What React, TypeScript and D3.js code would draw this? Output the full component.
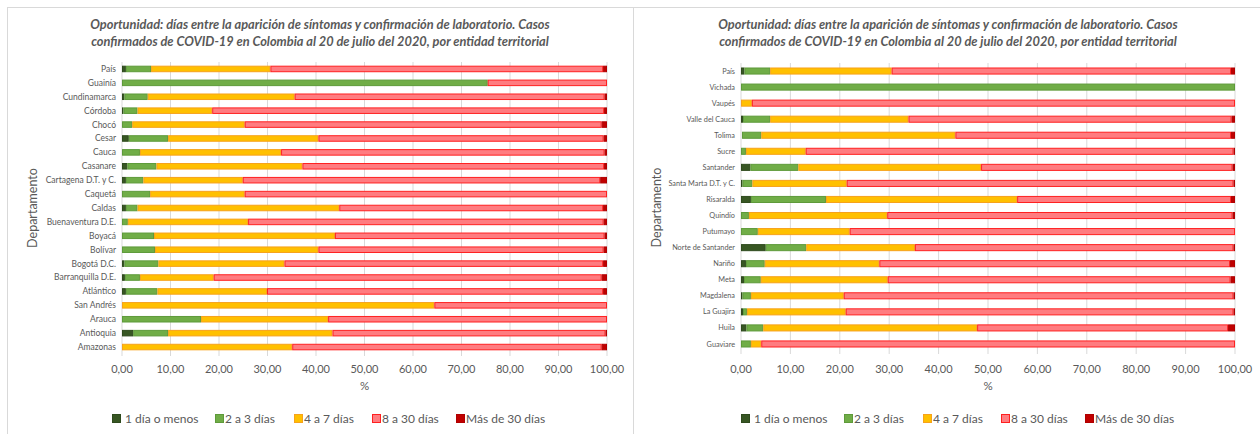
import React from 'react';
import * as d3 from 'd3';

// categorías de oportunidad (días entre síntomas y confirmación)
const series = ['1 día o menos', '2 a 3 días', '4 a 7 días', '8 a 30 días', 'Más de 30 días'];
const fills = ['#375623', '#70AD47', '#FFC000', '#FF7C80', '#C00000'];
const strokes = ['#2E4A1D', '#5E9A3A', '#F7A21B', '#FF2020', '#B00000'];

const titleLines = [
  'Oportunidad: días entre la aparición de síntomas y confirmación de laboratorio. Casos',
  'confirmados de COVID-19 en Colombia al 20 de julio del 2020, por entidad territorial',
];
const xTicks = [0, 10, 20, 30, 40, 50, 60, 70, 80, 90, 100];

// panel izquierdo
const leftDeptos = [
  'País', 'Guainía', 'Cundinamarca', 'Córdoba', 'Chocó', 'Cesar', 'Cauca', 'Casanare',
  'Cartagena D.T. y C.', 'Caquetá', 'Caldas', 'Buenaventura D.E.', 'Boyacá', 'Bolívar',
  'Bogotá D.C.', 'Barranquilla D.E.', 'Atlántico', 'San Andrés', 'Arauca', 'Antioquia', 'Amazonas',
];
const leftUnDia = [0.8, 0, 0.5, 0.3, 0, 1.4, 0, 1.1, 0.8, 0, 0.8, 0, 0, 0, 0.5, 0.6, 0.8, 0, 0, 2.3, 0];
const leftDosTres = [5.2, 75.4, 4.8, 2.9, 2.1, 8.1, 3.7, 6.0, 3.6, 5.8, 2.4, 1.2, 6.6, 6.8, 7.0, 3.1, 6.5, 0, 16.3, 7.2, 0];
const leftCuatroSiete = [24.6, 0, 30.3, 15.4, 23.2, 31.0, 29.1, 30.1, 20.5, 19.5, 41.6, 24.8, 37.3, 33.7, 26.0, 15.2, 22.6, 64.4, 26.2, 33.9, 35.1];
const leftOchoTreinta = [68.6, 24.6, 63.9, 80.8, 73.6, 58.8, 66.7, 62.2, 73.7, 74.7, 54.4, 73.3, 55.6, 58.8, 65.7, 80.0, 69.3, 35.6, 57.5, 56.3, 63.8];
const leftMas30 = [0.8, 0, 0.5, 0.6, 1.1, 0.7, 0.5, 0.6, 1.4, 0, 0.8, 0.7, 0.5, 0.7, 0.8, 1.1, 0.8, 0, 0, 0.3, 1.1];

// panel derecho
const rightDeptos = [
  'País', 'Vichada', 'Vaupés', 'Valle del Cauca', 'Tolima', 'Sucre', 'Santander',
  'Santa Marta D.T. y C.', 'Risaralda', 'Quindío', 'Putumayo', 'Norte de Santander',
  'Nariño', 'Meta', 'Magdalena', 'La Guajira', 'Huila', 'Guaviare',
];
const rightUnDia = [0.7, 0, 0, 0.4, 0.2, 0, 1.9, 0.3, 2.0, 0, 0, 5.0, 1.0, 0.6, 0.3, 0.4, 1.1, 0];
const rightDosTres = [5.2, 100, 0, 5.5, 3.9, 1.0, 9.7, 2.0, 15.2, 1.6, 3.4, 8.2, 3.8, 3.4, 1.7, 0.8, 3.4, 2.0];
const rightCuatroSiete = [24.6, 0, 2.2, 28.0, 39.3, 12.1, 37.0, 19.1, 38.7, 28.0, 18.6, 22.0, 23.2, 25.7, 18.8, 20.0, 43.3, 2.1];
const rightOchoTreinta = [68.7, 0, 97.8, 65.4, 55.8, 86.6, 50.9, 78.3, 43.3, 69.9, 78.0, 64.5, 71.0, 69.4, 78.9, 78.5, 50.8, 95.9];
const rightMas30 = [0.8, 0, 0, 0.7, 0.8, 0.3, 0.5, 0.3, 0.8, 0.5, 0, 0.3, 1.0, 0.9, 0.3, 0.3, 1.4, 0];

const esLocale = d3.formatLocale({ decimal: ',', thousands: '.', grouping: [3], currency: ['', ''] });
const fmt = esLocale.format('.2f');

const FONT = 'Lato, "Open Sans", sans-serif';
const GREY = '#595959';
const legendOffsets = [0, 103, 182, 260, 344];

const Panel = (props) => {
  const { cats, values, x0, x1, y0, y1, pad, labelSize, titleX, legendX, axisTitleX } = props;

  const rows = cats.map((c, i) => {
    const r = { name: c };
    series.forEach((k, j) => (r[k] = values[j][i]));
    return r;
  });
  const stacked = d3.stack().keys(series)(rows);

  const x = d3.scaleLinear().domain([0, 100]).range([x0, x1]);
  const y = d3.scaleBand().domain(cats).range([y0, y1]).paddingInner(pad).paddingOuter(pad / 2);
  const midY = (y0 + y1) / 2;

  return (
    <g>
      {titleLines.map((t, i) => (
        <text key={i} x={titleX} y={29 + i * 17} textAnchor="middle" fontFamily={FONT}
          fontStyle="italic" fontWeight="bold" fontSize={12.8} fill={GREY}>{t}</text>
      ))}

      {xTicks.map((t) => (
        <line key={t} x1={x(t)} x2={x(t)} y1={y0} y2={y1 + 2} stroke="#d9d9d9" strokeWidth={1} />
      ))}

      {stacked.map((layer, j) => (
        <g key={layer.key}>
          {layer.map((d, i) => (d[1] - d[0] > 0 ? (
            <rect key={i} x={x(d[0]) + 0.5} y={y(cats[i]) + 0.5}
              width={Math.max(0, x(d[1]) - x(d[0]) - 1)} height={y.bandwidth() - 1}
              fill={fills[j]} stroke={strokes[j]} strokeWidth={1} />
          ) : null))}
        </g>
      ))}

      {cats.map((c) => (
        <text key={c} x={x0 - 6} y={y(c) + y.bandwidth() / 2} dy="0.35em" textAnchor="end"
          fontFamily={FONT} fontSize={labelSize} fill={GREY}>{c}</text>
      ))}

      <text transform={`translate(${axisTitleX},${midY}) rotate(-90)`} textAnchor="middle"
        dy="0.35em" fontFamily={FONT} fontSize={12.5} fill={GREY}>Departamento</text>

      {xTicks.map((t) => (
        <text key={t} x={x(t)} y={373} textAnchor="middle" fontFamily={FONT}
          fontSize={11} fill={GREY}>{fmt(t)}</text>
      ))}
      <text x={(x0 + x1) / 2} y={390} textAnchor="middle" fontFamily={FONT}
        fontSize={11.5} fill={GREY}>%</text>

      {series.map((s, j) => (
        <g key={s} transform={`translate(${legendX + legendOffsets[j]},419)`}>
          <rect x={0.5} y={-4.5} width={8} height={8} fill={fills[j]} stroke={strokes[j]} />
          <text x={j === 0 ? 13 : 10} y={0} dy="0.35em" fontFamily={FONT} fontSize={12} fill={GREY}>{s}</text>
        </g>
      ))}
    </g>
  );
};

export default function App() {
  return (
    <svg width={1260} height={434} style={{ position: 'absolute', left: 0, top: 0, background: '#fff' }}>
      <rect x={7.5} y={7.5} width={626} height={440} fill="none" stroke="#d9d9d9" />
      <rect x={633.5} y={7.5} width={640} height={440} fill="none" stroke="#d9d9d9" />
      <Panel
        cats={leftDeptos}
        values={[leftUnDia, leftDosTres, leftCuatroSiete, leftOchoTreinta, leftMas30]}
        x0={122} x1={607} y0={62} y1={354} pad={0.53} labelSize={8.5}
        titleX={320} legendX={112} axisTitleX={33}
      />
      <Panel
        cats={rightDeptos}
        values={[rightUnDia, rightDosTres, rightCuatroSiete, rightOchoTreinta, rightMas30]}
        x0={741} x1={1235} y0={63} y1={352} pad={0.56} labelSize={7.3}
        titleX={948} legendX={741} axisTitleX={657}
      />
    </svg>
  );
}
